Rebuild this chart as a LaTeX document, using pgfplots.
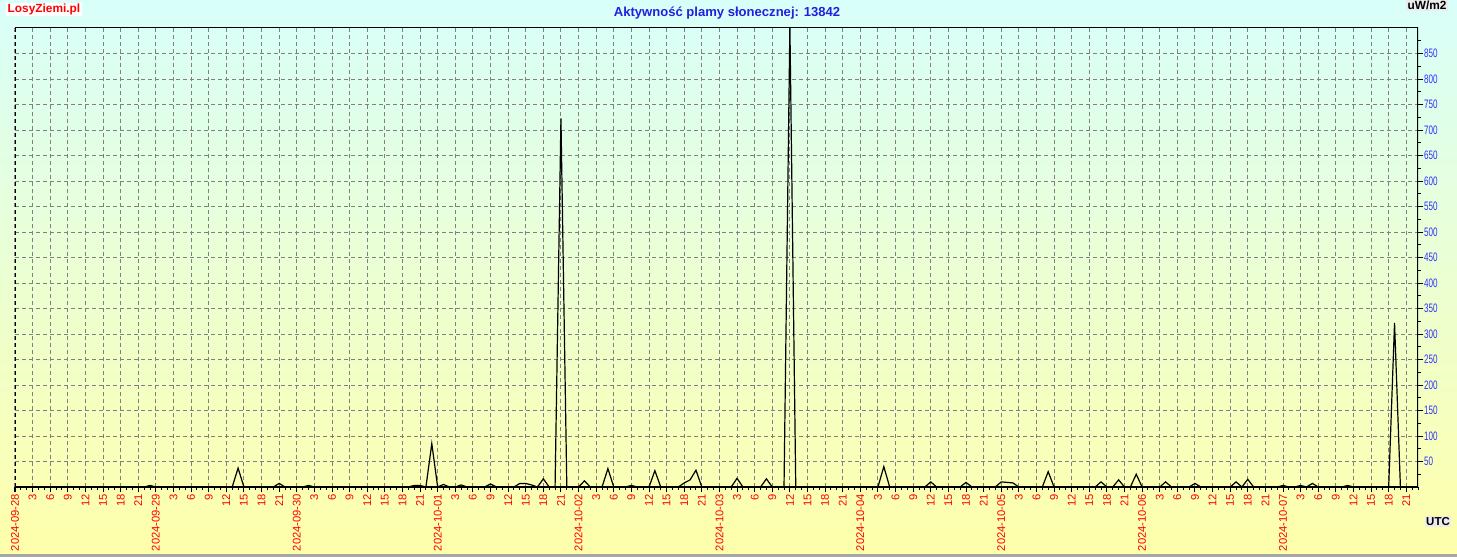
\documentclass[border=0pt]{standalone}
\usepackage{pgfplots}
\pgfplotsset{compat=1.18}
\usepackage{fontspec}
\setmainfont{Liberation Sans}
\newfontfamily\narrowfont[FakeStretch=0.66]{Liberation Sans}
\definecolor{bgtop}{RGB}{216,255,250}
\definecolor{bgbot}{RGB}{255,255,170}
\definecolor{tickred}{RGB}{255,0,0}
\definecolor{tickblue}{RGB}{50,50,255}
\definecolor{titleblue}{RGB}{32,32,224}
\definecolor{gridgray}{RGB}{128,128,128}
\definecolor{labgray}{RGB}{236,236,236}
\begin{document}
\begin{tikzpicture}[x=0.75pt,y=0.75pt]
\shade[top color=bgtop,bottom color=bgbot] (-15,-70) rectangle (1442,487);
\fill[gray!70] (-15,-70) rectangle (1442,-67);
\begin{axis}[
  at={(0,0)}, anchor=south west,
  scale only axis, width=1052.25pt, height=345pt,
  xmin=0, xmax=239, ymin=0, ymax=902,
  axis line style={draw=none},
  xtick={0,3,...,237}, minor xtick={0,1,...,239},
  xticklabels={2024-09-28,3,6,9,12,15,18,21,2024-09-29,3,6,9,12,15,18,21,2024-09-30,3,6,9,12,15,18,21,2024-10-01,3,6,9,12,15,18,21,2024-10-02,3,6,9,12,15,18,21,2024-10-03,3,6,9,12,15,18,21,2024-10-04,3,6,9,12,15,18,21,2024-10-05,3,6,9,12,15,18,21,2024-10-06,3,6,9,12,15,18,21,2024-10-07,3,6,9,12,15,18,21},
  xticklabel style={rotate=90, anchor=east, font=\fontsize{8.4}{8.4}\selectfont, text=tickred, inner sep=1pt},
  ytick={50,100,...,850}, minor ytick={25,75,...,875},
  yticklabel pos=right, ytick pos=right, xtick pos=bottom,
  yticklabel style={font=\narrowfont\fontsize{9.2}{9.2}\selectfont, text=tickblue, anchor=west, inner sep=0.3pt},
  /pgf/number format/assume math mode=true,
  tick align=outside,
  major tick length=4pt, minor tick length=2.25pt,
  x tick style={black, line width=0.75pt},
  y tick style={black, line width=0.75pt},
  xmajorgrids, ymajorgrids,
  major grid style={gridgray, line width=0.75pt, dash pattern=on 3pt off 2.25pt},
  clip=true,
]
\addplot[black, line width=0.9pt, mark=none] coordinates {
(0,0) (22,0) (23,3) (24,0)
(37,0) (38,37) (39,0)
(44,0) (45,7) (46,0)
(49,0) (50,3) (51,0)
(67,0) (68,3) (69,3) (70,0) (71,85) (72,0) (73,5) (74,0)
(75,0) (76,4) (77,0)
(80,0) (81,6) (82,0)
(85,0) (86,7) (87,7) (88,4) (89,0) (90,16) (91,0)
(92,0) (93,723) (94,0)
(96,0) (97,12) (98,0)
(100,0) (101,36) (102,0)
(104,0) (105,3) (106,0)
(108,0) (109,32) (110,0)
(113,0) (114,8) (115,14) (116,33) (117,0)
(122,0) (123,17) (124,0)
(127,0) (128,16) (129,0)
(131,0) (132,905) (133,0)
(147,0) (148,40) (149,0)
(155,0) (156,10) (157,0)
(161,0) (162,9) (163,0)
(167,0) (168,10) (169,9) (170,8) (171,0)
(175,0) (176,30) (177,0)
(184,0) (185,10) (186,0)
(187,0) (188,14) (189,0)
(190,0) (191,25) (192,0)
(195,0) (196,10) (197,0)
(200,0) (201,7) (202,0)
(207,0) (208,10) (209,0) (210,15) (211,0)
(215,0) (216,3) (217,0)
(218,0) (219,3) (220,0) (221,7) (222,0)
(226,0) (227,3) (228,0)
(234,0) (235,322) (236,0)
(239,0)
};
\draw[black, line width=0.75pt, dash pattern=on 3pt off 2.25pt] (rel axis cs:0,0) -- (rel axis cs:0,1);
\draw[black, line width=0.75pt] (rel axis cs:0,1) -- (rel axis cs:1,1);
\draw[black, line width=1.6pt] (rel axis cs:1,0) -- (rel axis cs:1,1);
\draw[black, line width=2.25pt] (rel axis cs:0,0) -- (rel axis cs:1,0);
\end{axis}
\node[font=\bfseries\fontsize{9.8}{9.8}\selectfont, text=titleblue] at (727-15,474) {Aktywność plamy słonecznej: 13842};
\node[fill=white, text=red, font=\bfseries\fontsize{8.9}{8.9}\selectfont, inner sep=1pt] at (29,477.5) {LosyZiemi.pl};
\node[fill=labgray, text=black, font=\bfseries\fontsize{8.9}{8.9}\selectfont, inner sep=1pt] at (1412,481.5) {uW/m2};
\node[fill=labgray, text=black, font=\bfseries\fontsize{8.6}{8.6}\selectfont, inner sep=1pt] at (1423,-34.5) {UTC};
\pgfresetboundingbox
\useasboundingbox (-15,-70) rectangle (1442,487);
\end{tikzpicture}
\end{document}
